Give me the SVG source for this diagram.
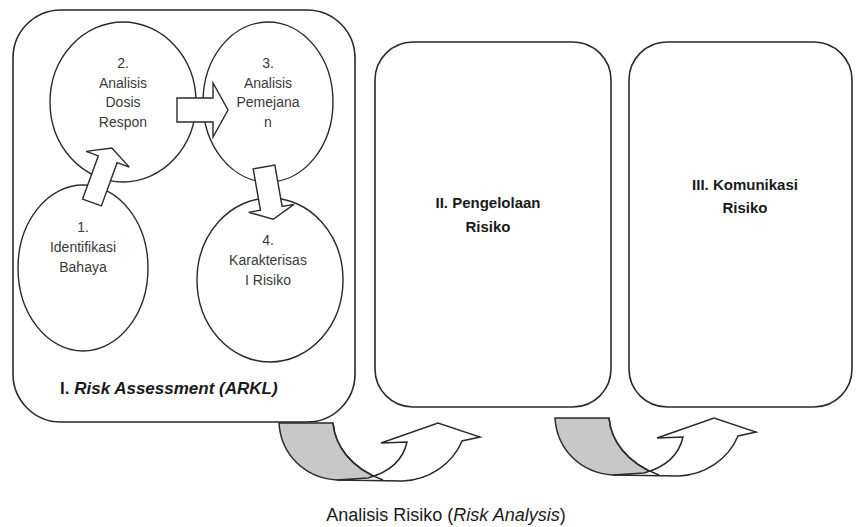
<svg xmlns="http://www.w3.org/2000/svg" width="858" height="527" viewBox="0 0 858 527">
<style>
.box{fill:none;stroke:#2a2a2a;stroke-width:1.6}
.circ{fill:none;stroke:#2a2a2a;stroke-width:1.4}
.arr{fill:#fff;stroke:#2a2a2a;stroke-width:1.4;stroke-linejoin:miter}
.ct{font-family:"Liberation Sans",Arial,sans-serif;font-size:14px;fill:#3a3a3a;text-anchor:middle}
.bt{font-family:"Liberation Sans",Arial,sans-serif;font-size:15px;font-weight:bold;fill:#1a1a1a;text-anchor:middle}
.gray{fill:#c8c8c8;stroke:#2a2a2a;stroke-width:1.5}
.front{fill:#fff;stroke:#2a2a2a;stroke-width:1.5}
.line{fill:none;stroke:#2a2a2a;stroke-width:1.5}
</style>
<defs>
<g id="curved">
<path class="gray" d="M279,423 L333,423 C335,445 350,468 383,480 L337,480 C305,478 281,455 279,423 Z"/>
<path class="front" d="M337,480 L403,481 C428,480 452,465 462,441 L480,437 L438,423 L381,443 L407,442 C403,460 390,472 368,478 Z"/>
<path class="line" d="M333,423 C335,445 350,468 383,480"/>
</g>
</defs>
<rect width="858" height="527" fill="#fff"/>

<g id="connectors">
<use href="#curved"/>
<use href="#curved" transform="translate(276,-5)"/>
</g>

<g id="box1">
<rect class="box" x="13" y="10" width="342" height="412" rx="48" ry="48"/>
<text x="60" y="394" font-family="Liberation Sans, Arial, sans-serif" font-size="17" font-weight="bold" fill="#1a1a1a">I. <tspan font-style="italic">Risk Assessment (ARKL)</tspan></text>
</g>

<g id="circle2">
<ellipse class="circ" cx="123" cy="102" rx="73" ry="80"/>
<text class="ct" x="123" y="68">2.</text>
<text class="ct" x="123" y="88">Analisis</text>
<text class="ct" x="123" y="107">Dosis</text>
<text class="ct" x="123" y="127">Respon</text>
</g>

<g id="circle3">
<ellipse class="circ" cx="268" cy="102" rx="65" ry="80"/>
<text class="ct" x="268" y="68">3.</text>
<text class="ct" x="268" y="88">Analisis</text>
<text class="ct" x="268" y="107">Pemejana</text>
<text class="ct" x="268" y="127">n</text>
</g>

<g id="circle1">
<ellipse class="circ" cx="83" cy="268" rx="65" ry="83"/>
<text class="ct" x="83" y="232">1.</text>
<text class="ct" x="83" y="252">Identifikasi</text>
<text class="ct" x="83" y="272">Bahaya</text>
</g>

<g id="circle4">
<ellipse class="circ" cx="270" cy="280" rx="73" ry="82"/>
<text class="ct" x="268" y="245">4.</text>
<text class="ct" x="268" y="265">Karakterisas</text>
<text class="ct" x="268" y="285">I Risiko</text>
</g>

<g id="arrows-inner">
<path class="arr" d="M177,98 L213,98 L213,83 L228,110 L213,137 L213,122 L177,122 Z"/>
<path class="arr" transform="translate(92,202.5) rotate(20)" d="M-10,0 L10,0 L10,-46 L23,-46 L0,-58 L-23,-46 L-10,-46 Z"/>
<path class="arr" transform="translate(264,167) rotate(-10)" d="M-11,0 L11,0 L11,42 L23,42 L0,53 L-23,42 L-11,42 Z"/>
</g>

<g id="box2">
<rect class="box" x="375" y="42" width="236" height="365" rx="38" ry="38"/>
<text class="bt" x="488" y="208">II. Pengelolaan</text>
<text class="bt" x="488" y="232">Risiko</text>
</g>

<g id="box3">
<rect class="box" x="629" y="42" width="223" height="365" rx="38" ry="38"/>
<text class="bt" x="745" y="190">III. Komunikasi</text>
<text class="bt" x="745" y="213">Risiko</text>
</g>

<g id="caption">
<text x="446" y="521" text-anchor="middle" font-family="Liberation Sans, Arial, sans-serif" font-size="18" fill="#1a1a1a">Analisis Risiko (<tspan font-style="italic">Risk Analysis</tspan>)</text>
</g>
</svg>
